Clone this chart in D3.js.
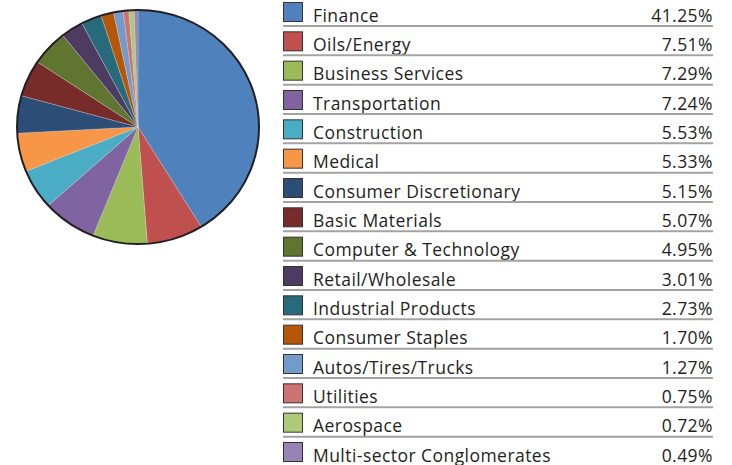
<!DOCTYPE html>
<html lang="en">
<head>
  <meta charset="UTF-8">
  <title>Sector Weights</title>
  <script src="https://d3js.org/d3.v7.min.js"></script>
  <style>
    body {
      margin: 0;
      background: #ffffff;
      font-family: "Open Sans", sans-serif;
    }
    .label {
      font-size: 17.5px;
      letter-spacing: 0.45px;
      fill: #231f20;
    }
    .sep {
      stroke: #a3a3a3;
      stroke-width: 2;
    }
  </style>
</head>
<body>
  <svg width="732" height="465"></svg>

  <script>
    const sectors = [
      "Finance", "Oils/Energy", "Business Services", "Transportation",
      "Construction", "Medical", "Consumer Discretionary", "Basic Materials",
      "Computer & Technology", "Retail/Wholesale", "Industrial Products",
      "Consumer Staples", "Autos/Tires/Trucks", "Utilities", "Aerospace",
      "Multi-sector Conglomerates"
    ];
    const weights = [41.25, 7.51, 7.29, 7.24, 5.53, 5.33, 5.15, 5.07, 4.95, 3.01, 2.73, 1.70, 1.27, 0.75, 0.72, 0.49];
    const colors = [
      "#4f81bd", "#c0504d", "#9bbb59", "#8064a2", "#4bacc6", "#f79646",
      "#2c4d75", "#772c2a", "#5f7530", "#4d3b62", "#276a7c", "#b65708",
      "#729aca", "#cd7371", "#afc97a", "#9983b5"
    ];

    const data = sectors.map((s, i) => ({ sector: s, weight: weights[i], color: colors[i] }));
    const svg = d3.select("svg");

    // Pie (slightly squashed vertically, like the original)
    const cx = 138, cy = 127, radius = 121, yScale = 117 / 121;
    const pie = d3.pie().sort(null).value(d => d.weight);
    const arc = d3.arc().innerRadius(0).outerRadius(radius);

    const pieG = svg.append("g").attr("transform", `translate(${cx},${cy}) scale(1,${yScale})`);
    pieG.selectAll("path")
      .data(pie(data))
      .join("path")
      .attr("d", arc)
      .attr("fill", d => d.data.color)
      .attr("stroke", "#d8d8d8")
      .attr("stroke-width", 0.3);

    pieG.append("circle")
      .attr("r", radius)
      .attr("fill", "none")
      .attr("stroke", "#231f20")
      .attr("stroke-width", 2);

    // Legend table
    const rowY = d3.scaleLinear().domain([0, data.length - 1]).range([2, 442]);
    const x0 = 283, x1 = 713;

    const rows = svg.append("g").selectAll("g")
      .data(data)
      .join("g")
      .attr("transform", (d, i) => `translate(0,${rowY(i)})`);

    rows.append("rect")
      .attr("x", x0 + 0.5)
      .attr("y", 0.5)
      .attr("width", 19)
      .attr("height", 19)
      .attr("fill", d => d.color)
      .attr("stroke", "#333")
      .attr("stroke-width", 1);

    rows.append("text")
      .attr("class", "label")
      .attr("x", 313)
      .attr("y", 19.5)
      .text(d => d.sector);

    rows.append("text")
      .attr("class", "label")
      .attr("x", x1)
      .attr("y", 19.5)
      .attr("text-anchor", "end")
      .text(d => d.weight.toFixed(2) + "%");

    rows.filter((d, i) => i < data.length - 1)
      .append("line")
      .attr("class", "sep")
      .attr("x1", x0)
      .attr("x2", x1)
      .attr("y1", 24)
      .attr("y2", 24);
  </script>
</body>
</html>
